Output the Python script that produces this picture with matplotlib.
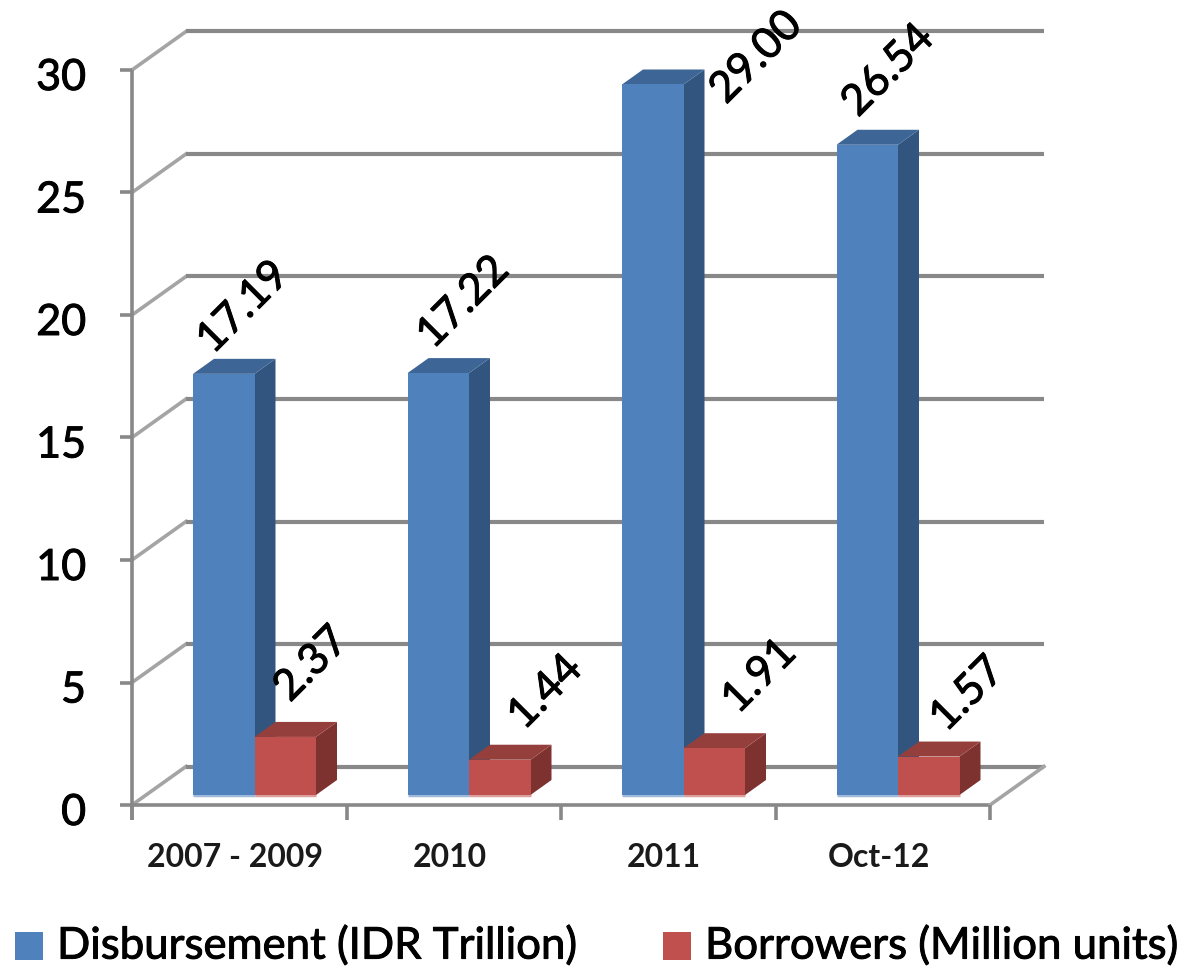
import matplotlib
matplotlib.use("Agg")
from matplotlib import pyplot as plt
from matplotlib import patheffects
from matplotlib.patches import Polygon, Rectangle

categories = ["2007 - 2009", "2010", "2011", "Oct-12"]
disbursement = [17.19, 17.22, 29.00, 26.54]
borrowers = [2.37, 1.44, 1.91, 1.57]
value_labels_d = ["17.19", "17.22", "29.00", "26.54"]
value_labels_b = ["2.37", "1.44", "1.91", "1.57"]
y_ticks = [0, 5, 10, 15, 20, 25, 30]
legend_items = ["Disbursement (IDR Trillion)", "Borrowers (Million units)"]

W, H = 1190, 972
X0, X1 = 132, 990      # pixel span of the front x axis
Y0, Y30 = 805, 70      # pixel span of the front y axis
UX = (X1 - X0) / 4
UY = (Y0 - Y30) / 30
FONT = "Lato"
GRID = "#888888"
GRID_SIDE = "#a4a4a4"
BLUE = "#4F81BD"
RED = "#C0504D"

fig = plt.figure(figsize=(W / 100, H / 100), dpi=100)
ax = fig.add_axes([0, 0, 1, 1])
ax.set_xlim(-X0 / UX, (W - X0) / UX)
ax.set_ylim(-(H - Y0) / UY, Y0 / UY)
ax.axis("off")

# blurred look of the source text
heavy = [patheffects.withStroke(linewidth=0.7, foreground="black")]

# depth of the 3d walls and of the bars, in data units
wall_dx, wall_dy = 54 / UX, 38.5 / UY
bar_dx, bar_dy = 21 / UX, 15 / UY
floor = 10 / UY
bar_w = 61.5 / UX
bar_start = 61 / UX


def px(x, y):
    return (x - X0) / UX, (Y0 - y) / UY


def box(x, value, front, side, lid, z):
    top = floor + value
    ax.add_patch(Polygon([(x, floor), (x + bar_w, floor), (x + bar_w, top), (x, top)],
                         closed=True, fc=front, ec="none", zorder=z + 0.2))
    ax.add_patch(Polygon([(x + bar_w, floor), (x + bar_w + bar_dx, floor + bar_dy),
                          (x + bar_w + bar_dx, top + bar_dy), (x + bar_w, top)],
                         closed=True, fc=side, ec="none", zorder=z))
    ax.add_patch(Polygon([(x, top), (x + bar_w, top), (x + bar_w + bar_dx, top + bar_dy),
                          (x + bar_dx, top + bar_dy)],
                         closed=True, fc=lid, ec="none", zorder=z + 0.1))
    # pale line along the foot of the bar
    ax.plot([x, x + bar_w], [floor, floor], color=front, alpha=0.55, lw=2.5,
            solid_capstyle="butt", zorder=z + 0.3)


# walls and gridlines
for t in y_ticks:
    ax.plot([0, wall_dx], [t, t + wall_dy], color=GRID_SIDE, lw=2.6, zorder=1)
    ax.plot([wall_dx, 4 + wall_dx], [t + wall_dy, t + wall_dy], color=GRID, lw=3,
            solid_capstyle="butt", zorder=1)
    ax.plot([-12 / UX, 0], [t, t], color=GRID, lw=2.6, solid_capstyle="butt", zorder=2)
    ax.text(-46 / UX, t - 8 / UY, str(t), fontsize=31, family=FONT, ha="right", va="center",
            color="black", zorder=5, path_effects=heavy)

ax.plot([0, 0], [-15 / UY, 30], color=GRID, lw=2.6, solid_capstyle="butt", zorder=2)
ax.plot([0, 4], [0, 0], color=GRID, lw=2.6, solid_capstyle="butt", zorder=2)
ax.plot([4, 4 + wall_dx], [0, wall_dy], color=GRID_SIDE, lw=2.6, zorder=2)
for i in range(5):
    ax.plot([i, i], [-15 / UY, 0], color=GRID, lw=2.6, solid_capstyle="butt", zorder=2)

# bars and category labels
for i, cat in enumerate(categories):
    x = i + bar_start
    box(x, disbursement[i], BLUE, "#325580", "#3D6595", 3)
    box(x + bar_w, borrowers[i], RED, "#7D3230", "#953F3C", 3.5)
    ax.text(i + 0.5 - 4 / UX, -(857 - Y0) / UY, cat, fontsize=23, family=FONT, weight="bold",
            ha="center", va="center", color="#1a1a1a", zorder=6)

# rotated value labels, placed by hand like in the source
label_px_d = [(213, 355), (433, 350), (726, 105), (858, 118)]
label_px_b = [(290, 703), (524, 731), (738, 715), (946, 733)]
for pos, txt in zip(label_px_d + label_px_b, value_labels_d + value_labels_b):
    ax.text(*px(*pos), txt, rotation=45, rotation_mode="anchor", fontsize=31, family=FONT,
            ha="left", va="baseline", color="black", zorder=6, path_effects=heavy)

# legend
for left, txt, col in zip([15, 663], legend_items, [BLUE, RED]):
    ax.add_patch(Rectangle(px(left, 960), 28 / UX, 28 / UY, fc=col, ec="none"))
    ax.text(*px(left + 42, 946), txt, fontsize=31.5, family=FONT,
            ha="left", va="center", color="black", path_effects=heavy)

fig.savefig("out.png", dpi=100)
